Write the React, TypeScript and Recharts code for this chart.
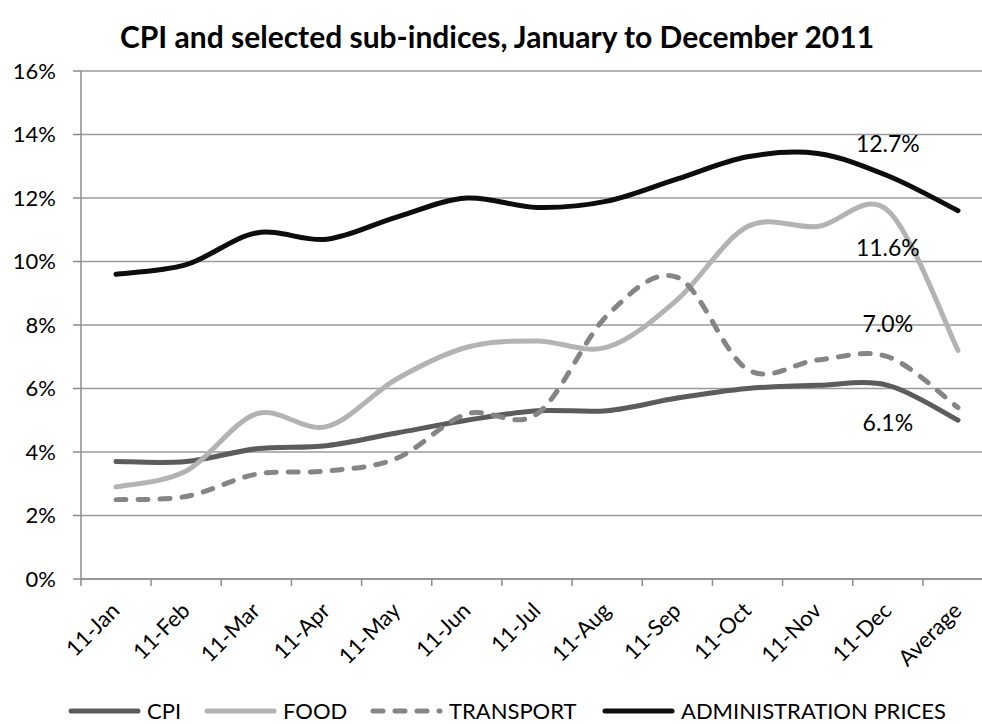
import React from 'react'
import { LineChart, Line, XAxis, YAxis, CartesianGrid, LabelList } from 'recharts'

const months = ['11-Jan', '11-Feb', '11-Mar', '11-Apr', '11-May', '11-Jun', '11-Jul', '11-Aug', '11-Sep', '11-Oct', '11-Nov', '11-Dec', 'Average']
const cpi = [3.7, 3.7, 4.1, 4.2, 4.6, 5.0, 5.3, 5.3, 5.7, 6.0, 6.1, 6.1, 5.0]
const food = [2.9, 3.4, 5.2, 4.8, 6.3, 7.3, 7.5, 7.3, 8.8, 11.1, 11.1, 11.6, 7.2]
const transport = [2.5, 2.6, 3.3, 3.4, 3.8, 5.2, 5.2, 8.3, 9.5, 6.6, 6.9, 7.0, 5.4]
const admin = [9.6, 9.9, 10.9, 10.7, 11.4, 12.0, 11.7, 11.9, 12.6, 13.3, 13.4, 12.7, 11.6]
const yTicks = [0, 2, 4, 6, 8, 10, 12, 14, 16]
const labelIndex = 11 // data labels only on December

const FONT = 'Lato, "Open Sans", sans-serif'

const data = months.map((m, i) => ({
  month: m,
  cpi: cpi[i],
  food: food[i],
  transport: transport[i],
  admin: admin[i],
}))

const series = [
  { key: 'cpi', name: 'CPI', color: '#5c5c5c', dash: undefined, labelDy: 37 },
  { key: 'food', name: 'FOOD', color: '#b3b3b3', dash: undefined, labelDy: 36 },
  { key: 'transport', name: 'TRANSPORT', color: '#858585', dash: '10 12', labelDy: -34 },
  { key: 'admin', name: 'ADMINISTRATION PRICES', color: '#0d0d0d', dash: undefined, labelDy: -33 },
]
const legendLeft = [68, 204, 370, 602]

// excel-like smoothing (catmull-rom through the points)
const excelSmooth = (context: any) => {
  let pts: number[][] = []
  return {
    areaStart() {},
    areaEnd() {},
    lineStart() { pts = [] },
    point(x: number, y: number) { pts.push([+x, +y]) },
    lineEnd() {
      const n = pts.length
      if (!n) return
      context.moveTo(pts[0][0], pts[0][1])
      for (let i = 0; i < n - 1; i++) {
        const p0 = pts[Math.max(i - 1, 0)]
        const p1 = pts[i]
        const p2 = pts[i + 1]
        const p3 = pts[Math.min(i + 2, n - 1)]
        context.bezierCurveTo(
          p1[0] + (p2[0] - p0[0]) / 6, p1[1] + (p2[1] - p0[1]) / 6,
          p2[0] - (p3[0] - p1[0]) / 6, p2[1] - (p3[1] - p1[1]) / 6,
          p2[0], p2[1]
        )
      }
    },
  }
}

const MonthTick = (props: any) => {
  const { x, y, payload, index, width } = props
  const band = width ? (width - 70) / (months.length - 1) : 70.17
  return (
    <g>
      <line x1={x - band / 2} x2={x - band / 2} y1={y - 7} y2={y} stroke="#8c8c8c" strokeWidth={1.5} />
      {index === months.length - 1 && (
        <line x1={x + band / 2} x2={x + band / 2} y1={y - 7} y2={y} stroke="#8c8c8c" strokeWidth={1.5} />
      )}
      <g transform={`translate(${x + 5},${y + 26})`}>
        <text textAnchor="end" transform="rotate(-45)" fontSize={22} fill="#000" fontFamily={FONT}>
          {payload.value}
        </text>
      </g>
    </g>
  )
}

const makeLabel = (dy: number) => (props: any) => {
  const { x, y, value, index } = props
  if (index !== labelIndex) return null
  return (
    <text x={x} y={y + dy} textAnchor="middle" dominantBaseline="central" fontSize={23} fill="#000" fontFamily={FONT}>
      {value.toFixed(1)}%
    </text>
  )
}

export default function App() {
  return (
    <div style={{ position: 'fixed', top: 0, left: 0, width: 982, height: 724, overflow: 'hidden', background: '#fff', fontFamily: FONT }}>
      <div style={{ position: 'absolute', top: 18, left: 0, width: 994, textAlign: 'center', fontWeight: 700, fontSize: 30, color: '#000', lineHeight: '36px' }}>
        CPI and selected sub-indices, January to December 2011
      </div>
      <LineChart width={1000} height={724} data={data} margin={{ top: 71, right: 7, left: 0, bottom: 45 }}>
        <CartesianGrid horizontal vertical={false} stroke="#9a9a9a" strokeWidth={1.5} />
        <XAxis
          dataKey="month"
          height={100}
          padding={{ left: 35, right: 35 }}
          tick={<MonthTick />}
          tickLine={false}
          tickSize={7}
          tickMargin={0}
          axisLine={{ stroke: '#8c8c8c', strokeWidth: 1.5 }}
          interval={0}
        />
        <YAxis
          width={81}
          domain={[0, 16]}
          ticks={yTicks}
          tickFormatter={(v: number) => `${v}%`}
          tickSize={8}
          tickMargin={17}
          tick={{ fontSize: 22, fill: '#000', fontFamily: FONT }}
          tickLine={{ stroke: '#8c8c8c', strokeWidth: 1.5 }}
          axisLine={{ stroke: '#8c8c8c', strokeWidth: 1.5 }}
        />
        {series.map(s => (
          <Line
            key={s.key}
            dataKey={s.key}
            name={s.name}
            type={excelSmooth as any}
            stroke={s.color}
            strokeWidth={5}
            strokeDasharray={s.dash}
            strokeLinecap="round"
            dot={false}
            activeDot={false}
            isAnimationActive={false}
          >
            <LabelList dataKey={s.key} content={makeLabel(s.labelDy)} />
          </Line>
        ))}
      </LineChart>
      {series.map((s, i) => (
        <div key={s.key} style={{ position: 'absolute', top: 699, left: legendLeft[i], display: 'flex', alignItems: 'center', height: 24, lineHeight: '24px', fontSize: 22, color: '#000', whiteSpace: 'nowrap' }}>
          <svg width={73} height={10} style={{ marginRight: 6 }}>
            <line x1={3} x2={70} y1={5} y2={5} stroke={s.color} strokeWidth={5} strokeLinecap="round" strokeDasharray={s.dash} />
          </svg>
          <span>{s.name}</span>
        </div>
      ))}
    </div>
  )
}
